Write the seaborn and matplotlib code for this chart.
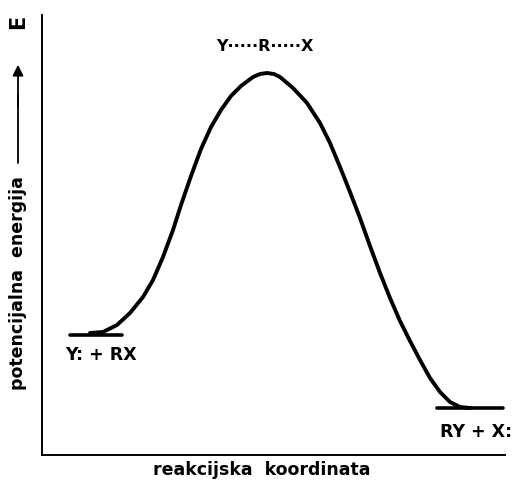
import pandas as pd
import matplotlib.pyplot as plt
import seaborn as sns

# Reaction profile (x = reaction coordinate, y = energy)
curve_x = [48, 61, 75, 88, 101, 111, 121, 131, 139, 149, 159, 169, 179, 189, 199,
           211, 218, 225, 232, 238, 251, 265, 278, 288, 298, 308, 318, 328, 338,
           348, 358, 368, 378, 388, 398, 408, 418, 428]
curve_y = [122, 123, 130, 142, 158, 175, 198, 225, 250, 279, 306, 328, 345, 359, 369,
           378, 381, 382, 381, 378, 367, 352, 332, 312, 288, 263, 237, 209, 182,
           157, 134, 114, 95, 77, 63, 53, 48, 47]

# flat levels of reactants and products
start_x = [28, 80]
start_y = [120, 120]
end_x = [395, 461]
end_y = [47, 47]

labels = ["Y: + RX", "RY + X:", "Y\u00b7\u00b7\u00b7\u00b7\u00b7R\u00b7\u00b7\u00b7\u00b7\u00b7X"]

sns.set_style("white")
plt.rcParams["font.family"] = ["DejaVu Sans"]
plt.rcParams["text.color"] = "black"

fig = plt.figure(figsize=(5.15, 4.86), dpi=100)
ax = fig.add_axes([42 / 515, 31 / 486, 463 / 515, 440 / 486])

df = pd.DataFrame({"x": curve_x, "y": curve_y})
sns.lineplot(data=df, x="x", y="y", sort=False, color="black", linewidth=2.8,
             solid_joinstyle="round", ax=ax)
sns.lineplot(x=start_x, y=start_y, color="black", linewidth=2.6, ax=ax)
sns.lineplot(x=end_x, y=end_y, color="black", linewidth=2.6, ax=ax)

ax.set_xlim(0, 463)
ax.set_ylim(0, 440)
ax.set_xticks([])
ax.set_yticks([])
ax.set_xlabel("")
ax.set_ylabel("")
sns.despine(ax=ax)
for s in ["left", "bottom"]:
    ax.spines[s].set_color("black")
    ax.spines[s].set_linewidth(1.4)

ax.text(23, 100, labels[0], fontsize=12.5, fontweight="bold", ha="left", va="center")
ax.text(470, 23, labels[1], fontsize=12.5, fontweight="bold", ha="right", va="center")
ax.text(223, 409, labels[2], fontsize=11.5, fontweight="bold", ha="center", va="center")

fig.text(262 / 515, 1 - 470 / 486, "reakcijska  koordinata", fontsize=12.5,
         fontweight="bold", ha="center", va="center")
fig.text(18 / 515, 1 - 283 / 486, "potencijalna  energija", fontsize=12.5,
         fontweight="bold", rotation=90, ha="center", va="center")
fig.text(18 / 515, 1 - 22 / 486, "E", fontsize=15, fontweight="bold",
         rotation=90, ha="center", va="center")
fig.add_artist(plt.Line2D([18 / 515, 18 / 515], [1 - 163 / 486, 1 - 95 / 486],
                          color="black", linewidth=1.3))
ax.annotate("", xy=(18 / 515, 1 - 62 / 486), xytext=(18 / 515, 1 - 110 / 486),
            xycoords="figure fraction", textcoords="figure fraction",
            arrowprops=dict(arrowstyle="-|>", color="black", lw=1.3,
                            mutation_scale=16))

fig.savefig("out.png", dpi=100, facecolor="white")
